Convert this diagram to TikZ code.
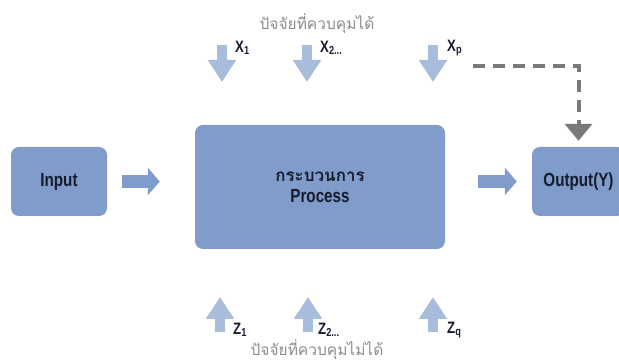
\documentclass[tikz,border=0pt]{standalone}
\usepackage{fontspec}
\setmainfont[FakeStretch=0.8]{Liberation Sans}
\newfontfamily\thaifont[Script=Thai]{Loma}
\usepackage{tikz}
\usetikzlibrary{positioning, arrows.meta}
\usepackage{xcolor}
\definecolor{boxblue}{HTML}{7F9CCB}
\definecolor{paleblue}{HTML}{A8BCDB}
\definecolor{inkblue}{HTML}{161B2E}
\definecolor{dashgray}{HTML}{7A7A7A}
\definecolor{titlegray}{HTML}{8C8C8C}

\begin{document}
\begin{tikzpicture}[
    x=1pt, y=1pt,
    block/.style={rectangle, rounded corners=8pt, fill=boxblue, text=inkblue,
        font=\fontsize{19}{21}\selectfont\bfseries, align=center, inner sep=0pt},
    flow/.style={draw=boxblue, line width=13pt, -{Triangle[length=12pt,width=27pt]}},
    factor/.style={draw=paleblue, line width=10pt, -{Triangle[length=22pt,width=27pt]}},
    var/.style={text=inkblue, font=\fontsize{16.5}{18}\selectfont\bfseries, anchor=west, inner sep=0pt},
    heading/.style={text=titlegray, font=\fontsize{15.5}{17}\selectfont\thaifont, inner sep=0pt}
]
    \path[use as bounding box, clip] (0,0) rectangle (619,363);

    % Main blocks
    \node[block, minimum width=96pt, minimum height=69pt] (input) at (59,181.5) {Input};
    \node[block, minimum width=250pt, minimum height=124pt] (process) at (320,176)
        {{\thaifont\fontsize{17}{21}\selectfont กระบวนการ}\\Process};
    \node[block, minimum width=93pt, minimum height=69pt] (output) at (578.5,181.5) {Output(Y)};

    % Flow between blocks
    \draw[flow] ([xshift=15pt]input.east) -- ([xshift=-35pt]process.west |- input.east);
    \draw[flow] ([xshift=33pt]process.east |- output.west) -- ([xshift=-15pt]output.west);

    % Controllable factors
    \node[heading] (ctrl) at (317,339) {ปัจจัยที่ควบคุมได้};
    \node[var] (x1) at (235,315) {X\textsubscript{1}};
    \node[var] (x2) at (320,315) {X\textsubscript{2...}};
    \node[var] (xp) at (447,315) {X\textsubscript{p}};
    \coordinate (x1a) at (222,318);
    \coordinate (x1b) at (222,281);
    \coordinate (x2a) at (307,318);
    \coordinate (x2b) at (307,281);
    \coordinate (xpa) at (433,318);
    \coordinate (xpb) at (433,281);
    \draw[factor] (x1a) -- (x1b);
    \draw[factor] (x2a) -- (x2b);
    \draw[factor] (xpa) -- (xpb);

    % Feedback to output
    \coordinate (feed) at (473,297);
    \draw[dashgray, line width=4pt, dash pattern=on 12pt off 8pt,
        -{Triangle[length=17pt,width=27pt]}] (feed) -| ([yshift=6pt]output.north);

    % Uncontrollable factors
    \node[heading] (unctrl) at (317,13) {ปัจจัยที่ควบคุมไม่ได้};
    \node[var] (z1) at (233,33) {Z\textsubscript{1}};
    \node[var] (z2) at (318,33) {Z\textsubscript{2...}};
    \node[var] (zq) at (447,33) {Z\textsubscript{q}};
    \coordinate (z1a) at (220,31);
    \coordinate (z1b) at (220,66);
    \coordinate (z2a) at (308,31);
    \coordinate (z2b) at (308,66);
    \coordinate (zqa) at (433,31);
    \coordinate (zqb) at (433,66);
    \draw[factor] (z1a) -- (z1b);
    \draw[factor] (z2a) -- (z2b);
    \draw[factor] (zqa) -- (zqb);
\end{tikzpicture}
\end{document}
